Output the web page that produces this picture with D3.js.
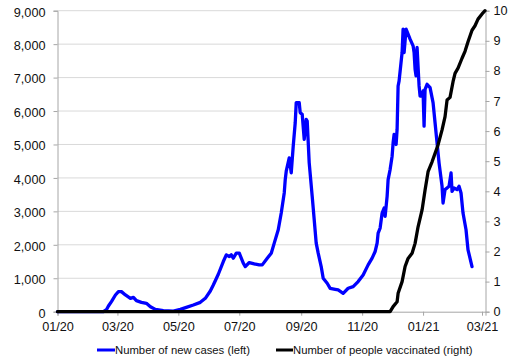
<!DOCTYPE html>
<html><head><meta charset="utf-8">
<script src="https://cdn.jsdelivr.net/npm/d3@7"></script>
<style>
html,body{margin:0;padding:0;background:#fff;}
svg{display:block;font-family:"Liberation Sans",Arial,sans-serif;}
</style></head>
<body><svg id="chart" width="531" height="356"></svg>
<script>
const caseDates = ["2020-01-01","2020-02-16","2020-02-19","2020-02-21","2020-02-24","2020-02-28","2020-03-02","2020-03-05","2020-03-09","2020-03-14","2020-03-17","2020-03-20","2020-03-25","2020-03-30","2020-04-03","2020-04-08","2020-04-16","2020-04-26","2020-05-03","2020-05-09","2020-05-16","2020-05-23","2020-05-28","2020-06-02","2020-06-05","2020-06-10","2020-06-15","2020-06-18","2020-06-21","2020-06-23","2020-06-25","2020-06-28","2020-07-01","2020-07-05","2020-07-07","2020-07-11","2020-07-16","2020-07-21","2020-07-24","2020-07-29","2020-08-02","2020-08-05","2020-08-09","2020-08-12","2020-08-15","2020-08-16","2020-08-17","2020-08-20","2020-08-22","2020-08-24","2020-08-26","2020-08-27","2020-08-30","2020-08-31","2020-09-02","2020-09-04","2020-09-06","2020-09-07","2020-09-09","2020-09-12","2020-09-14","2020-09-16","2020-09-18","2020-09-21","2020-09-23","2020-09-27","2020-09-30","2020-10-05","2020-10-08","2020-10-13","2020-10-18","2020-10-23","2020-10-28","2020-11-02","2020-11-07","2020-11-11","2020-11-14","2020-11-16","2020-11-17","2020-11-19","2020-11-21","2020-11-23","2020-11-24","2020-11-26","2020-11-27","2020-11-29","2020-12-01","2020-12-02","2020-12-03","2020-12-05","2020-12-06","2020-12-07","2020-12-08","2020-12-11","2020-12-12","2020-12-13","2020-12-15","2020-12-17","2020-12-19","2020-12-22","2020-12-23","2020-12-24","2020-12-25","2020-12-26","2020-12-28","2020-12-29","2020-12-31","2021-01-01","2021-01-02","2021-01-03","2021-01-05","2021-01-08","2021-01-11","2021-01-13","2021-01-15","2021-01-17","2021-01-20","2021-01-21","2021-01-23","2021-01-25","2021-01-27","2021-01-29","2021-01-30","2021-02-01","2021-02-04","2021-02-06","2021-02-08","2021-02-10","2021-02-13","2021-02-15","2021-02-19"];
const newCases = [0,0,60,170,300,500,600,600,500,400,430,330,280,250,150,70,30,20,70,130,200,280,400,620,800,1120,1500,1700,1650,1700,1600,1750,1750,1450,1350,1470,1430,1400,1400,1600,1750,2050,2450,2950,3550,3950,4200,4600,4150,4950,5650,6250,6250,5950,5900,5150,5750,5700,4450,3450,2750,2050,1750,1350,1000,850,700,670,650,550,700,750,900,1100,1400,1600,1800,2050,2350,2500,2950,3100,2850,3450,3950,4250,4650,5050,5300,5000,5450,6750,6900,7750,8450,7750,8450,8300,8150,7950,7750,7250,7050,7900,6750,6450,6450,6600,5550,6650,6800,6700,6250,5650,5050,4450,3750,3250,3650,3700,3750,4150,3600,3700,3650,3750,3550,2950,2450,1850,1350];

const vaccDates = ["2020-01-01","2020-11-29","2020-12-02","2020-12-06","2020-12-07","2020-12-11","2020-12-14","2020-12-17","2020-12-21","2020-12-24","2020-12-27","2020-12-31","2021-01-03","2021-01-06","2021-01-10","2021-01-13","2021-01-16","2021-01-20","2021-01-23","2021-01-25","2021-01-28","2021-01-31","2021-02-02","2021-02-05","2021-02-09","2021-02-12","2021-02-15","2021-02-19","2021-02-22","2021-02-25","2021-03-02","2021-03-04"];
const vaccinated = [0,0,0.17,0.33,0.61,1.0,1.5,1.77,1.94,2.27,2.82,3.38,4.04,4.65,4.98,5.26,5.54,6.04,6.48,7.03,7.12,7.64,7.92,8.09,8.42,8.65,8.97,9.35,9.5,9.72,9.93,10.0];

const xTickDates = ["2020-01-01","2020-03-01","2020-05-01","2020-07-01","2020-09-01","2020-11-01","2021-01-01","2021-03-01"];
const xTickLabels = ["01/20","03/20","05/20","07/20","09/20","11/20","01/21","03/21"];
const leftTicks = [0,1000,2000,3000,4000,5000,6000,7000,8000,9000];
const rightTicks = [0,1,2,3,4,5,6,7,8,9,10];
const seriesNames = ["Number of new cases (left)","Number of people vaccinated (right)"];

const parse = d3.timeParse("%Y-%m-%d");
const svg = d3.select("#chart");
const L = 57.5, R = 485.5, T = 10.7, B = 311.7;

const x = d3.scaleTime().domain([parse("2020-01-01"), new Date(2021,2,4,12)]).range([L, R]);
const yL = d3.scaleLinear().domain([0, 9000]).range([B, T]);
const yR = d3.scaleLinear().domain([0, 10]).range([B, T]);

const fmt = d3.format(",");
const tickFont = "12.7px";

// gridlines
svg.append("g").selectAll("line").data(leftTicks.filter(d => d > 0)).join("line")
  .attr("x1", L).attr("x2", R)
  .attr("y1", d => yL(d)).attr("y2", d => yL(d))
  .attr("stroke", "#d9d9d9").attr("stroke-width", 1);

// left axis
const gl = svg.append("g").attr("transform", `translate(${L},0)`)
  .call(d3.axisLeft(yL).tickValues(leftTicks).tickFormat(fmt).tickSize(4).tickPadding(8));
gl.select(".domain").attr("stroke", "#a6a6a6");
gl.selectAll(".tick line").attr("stroke", "#a6a6a6");
gl.selectAll("text").attr("font-size", tickFont).attr("fill", "#111").attr("font-family", "Liberation Sans, Arial, sans-serif").attr("dy", "0.42em");

// right axis
const gr = svg.append("g").attr("transform", `translate(${R},0)`)
  .call(d3.axisRight(yR).tickValues(rightTicks).tickSize(4).tickPadding(4));
gr.select(".domain").attr("stroke", "#a6a6a6");
gr.selectAll(".tick line").attr("stroke", "#a6a6a6");
gr.selectAll("text").attr("font-size", tickFont).attr("fill", "#111").attr("font-family", "Liberation Sans, Arial, sans-serif");

// bottom axis
const gb = svg.append("g").attr("transform", `translate(0,${B})`)
  .call(d3.axisBottom(x).tickValues(xTickDates.map(parse)).tickFormat((d, i) => xTickLabels[i]).tickSize(4).tickPadding(6));
gb.select(".domain").attr("stroke", "#a6a6a6");
gb.selectAll(".tick line").attr("stroke", "#a6a6a6");
gb.selectAll("text").attr("font-size", tickFont).attr("fill", "#111").attr("font-family", "Liberation Sans, Arial, sans-serif");

// series
const caseData = caseDates.map((d, i) => ({date: parse(d), v: newCases[i]}));
const vaccData = vaccDates.map((d, i) => ({date: parse(d), v: vaccinated[i]}));

svg.append("path").datum(caseData)
  .attr("fill", "none").attr("stroke", "#0000ff").attr("stroke-width", 3.3)
  .attr("stroke-linejoin", "round").attr("stroke-linecap", "round")
  .attr("d", d3.line().x(d => x(d.date)).y(d => yL(d.v)));

svg.append("path").datum(vaccData)
  .attr("fill", "none").attr("stroke", "#000000").attr("stroke-width", 3.3)
  .attr("stroke-linejoin", "round").attr("stroke-linecap", "round")
  .attr("d", d3.line().x(d => x(d.date)).y(d => yR(d.v)));

// legend
const legend = [
  {name: seriesNames[0], color: "#0000ff", x1: 97, x2: 115},
  {name: seriesNames[1], color: "#000000", x1: 276, x2: 293}
];
const lg = svg.append("g");
legend.forEach(l => {
  lg.append("line").attr("x1", l.x1).attr("x2", l.x2).attr("y1", 350).attr("y2", 350)
    .attr("stroke", l.color).attr("stroke-width", 3);
  lg.append("text").attr("x", l.x2).attr("y", 354).attr("font-size", "11.3px")
    .attr("fill", "#111").text(l.name);
});
</script></body></html>
